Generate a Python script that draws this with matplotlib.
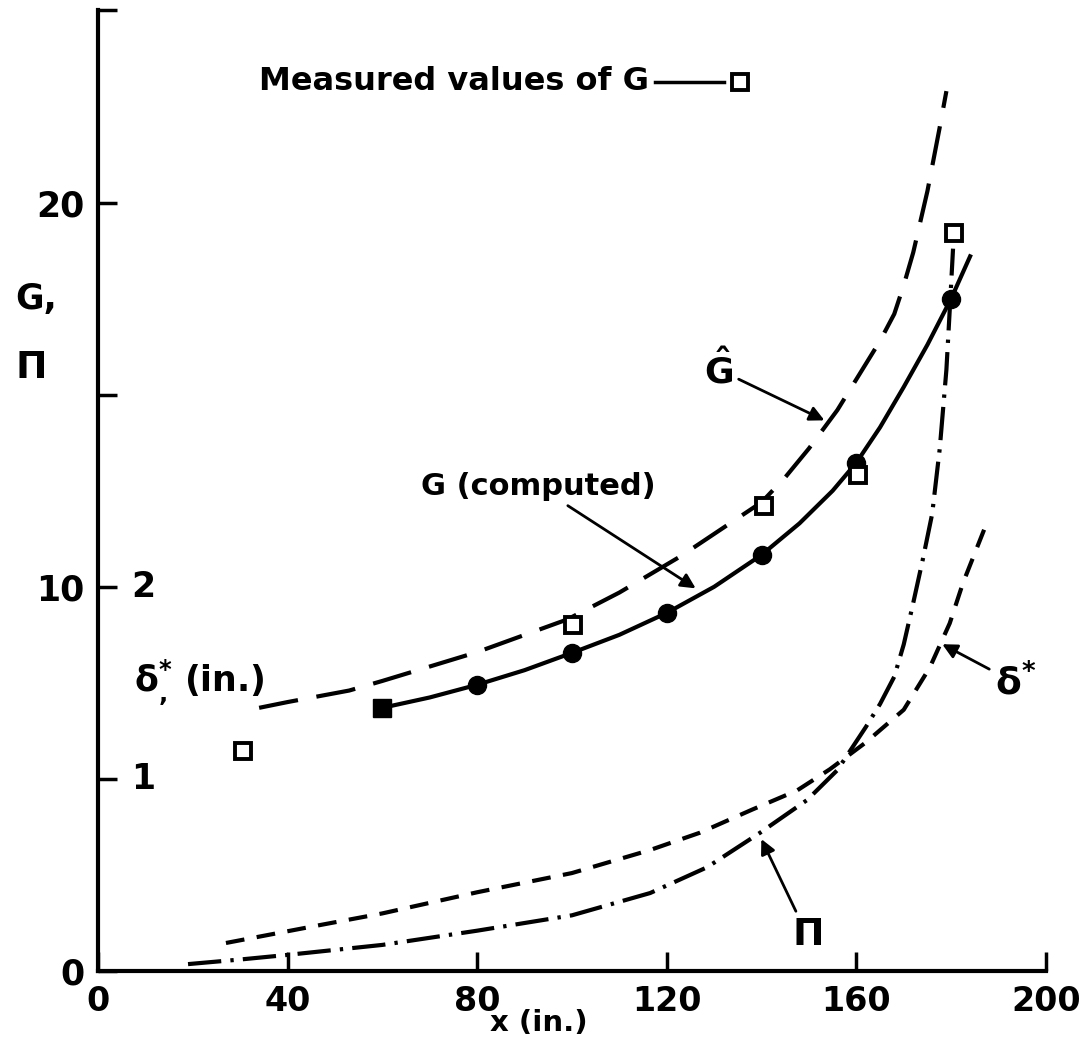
import numpy as np
import matplotlib
matplotlib.use('Agg')
from matplotlib import pyplot as plt

# values (x in inches)
# G computed (solid line)
g_comp_x = [60, 70, 80, 90, 100, 110, 120, 130, 140, 148, 155, 160, 165, 170, 175, 180, 184]
g_comp_y = [6.85, 7.12, 7.45, 7.83, 8.28, 8.75, 9.32, 10.0, 10.83, 11.65, 12.5, 13.23, 14.15, 15.2, 16.3, 17.5, 18.6]

# computed points: filled square at start, filled circles after
g_pts_x = [80, 100, 120, 140, 160, 180]
g_pts_y = [7.45, 8.28, 9.32, 10.83, 13.23, 17.5]
g_start = (60, 6.85)

# measured G (open squares)
g_meas_x = [30.5, 100.2, 140.5, 160.3, 180.5]
g_meas_y = [5.73, 9.0, 12.1, 12.9, 19.2]

# G hat (long dashes)
ghat_x = [34, 40, 53, 60, 80, 99, 110, 123, 140, 145, 150, 156, 162, 165, 168, 170, 172, 175, 177.5, 179]
ghat_y = [6.85, 7.0, 7.3, 7.55, 8.3, 9.15, 9.85, 10.8, 12.2, 12.85, 13.6, 14.6, 15.8, 16.4, 17.1, 17.85, 18.7, 20.3, 21.9, 22.9]

# Pi (dash-dot)
pi_x = [19, 30, 40, 60, 80, 100, 116.5, 128.5, 139.7, 149.6, 156, 162, 165, 168, 170, 172, 174, 176, 177.6, 179, 179.7, 180.4]
pi_y = [0.18, 0.3, 0.42, 0.68, 1.05, 1.45, 2.03, 2.7, 3.6, 4.45, 5.23, 6.35, 6.95, 7.66, 8.5, 9.58, 10.7, 11.9, 13.6, 15.65, 17.2, 18.8]

# delta* in inches (short dashes), 1 in. = 5 units of G
dstar_x = [27, 47, 60, 80, 100, 116.5, 127, 138, 147.5, 154.4, 162, 170, 175.5, 179.7, 182.5, 187]
dstar_in = [0.146, 0.24, 0.30, 0.41, 0.51, 0.63, 0.72, 0.84, 0.94, 1.05, 1.19, 1.36, 1.58, 1.81, 2.02, 2.30]
dstar_scale = 5.0

x_ticks = [0, 40, 80, 120, 160, 200]
g_ticks = [0, 5, 10, 15, 20, 25]
g_labels = ['0', '', '10', '', '20', '']
d_ticks = [1, 2]

plt.rcParams['font.family'] = ['DejaVu Sans']
plt.rcParams['font.weight'] = 'bold'

fig = plt.figure(figsize=(10.85, 10.43), dpi=100)
ax = fig.add_axes([0.0903, 0.069, 0.8737, 0.921])
ax.set_xlim(0, 200)
ax.set_ylim(0, 25)

for s in ['top', 'right']:
    ax.spines[s].set_visible(False)
for s in ['left', 'bottom']:
    ax.spines[s].set_linewidth(3)

ax.set_xticks(x_ticks)
ax.set_xticklabels([str(v) for v in x_ticks], fontsize=24)
ax.set_yticks(g_ticks)
ax.set_yticklabels(g_labels, fontsize=25)
ax.tick_params(direction='in', length=14, width=2.5, pad=10)

lw = 3
ax.plot(g_comp_x, g_comp_y, '-', color='black', lw=lw)
ax.plot(g_pts_x, g_pts_y, 'o', color='black', ms=13)
ax.plot([g_start[0]], [g_start[1]], 's', color='black', ms=13)
ax.plot(ghat_x, ghat_y, color='black', lw=lw, dashes=(9.5, 4.5))
ax.plot(pi_x, pi_y, color='black', lw=lw, dashes=(8, 2.2, 0.8, 2.2))
ax.plot(dstar_x, np.array(dstar_in) * dstar_scale, color='black', lw=lw, dashes=(4.5, 3))
ax.plot(g_meas_x, g_meas_y, 's', mfc='white', mec='black', mew=2.8, ms=12)

# delta* scale labels on the inside of the left axis
for d in d_ticks:
    ax.text(7, d * dstar_scale, str(d), fontsize=25, va='center', ha='left')

# axis titles
ax.text(-17.5, 17.5, 'G,', fontsize=25, va='center', ha='left', clip_on=False)
ax.text(-17.5, 15.7, r'$\mathbf{\Pi}$', fontsize=27, va='center', ha='left', clip_on=False)
ax.text(7.5, 7.5, r'$\mathbf{\delta^{*}_{,}}$ (in.)', fontsize=25, va='center', ha='left')
ax.text(93, -1.35, 'x (in.)', fontsize=21, va='center', ha='center', clip_on=False)

# legend line for measured values
ax.text(34, 23.15, 'Measured values of G', fontsize=23, va='center', ha='left')
ax.plot([117.5, 132], [23.15, 23.15], '-', color='black', lw=2.5)
ax.plot([135.4], [23.15], 's', mfc='white', mec='black', mew=2.8, ms=12)

arrow = dict(arrowstyle='-|>', color='black', lw=2, mutation_scale=22)
ax.annotate(r'$\mathbf{\hat{G}}$', xy=(153.8, 14.3), xytext=(131, 15.65),
            fontsize=26, ha='center', va='center', arrowprops=arrow)
ax.annotate('G (computed)', xy=(126.6, 9.92), xytext=(93, 12.6),
            fontsize=22, ha='center', va='center', arrowprops=arrow)
ax.annotate(r'$\mathbf{\delta^{*}}$', xy=(177.6, 8.54), xytext=(193.5, 7.5),
            fontsize=27, ha='center', va='center', arrowprops=arrow)
ax.annotate(r'$\mathbf{\Pi}$', xy=(139.7, 3.5), xytext=(149.6, 0.95),
            fontsize=27, ha='center', va='center', arrowprops=arrow)

fig.savefig('out.png', dpi=100)
